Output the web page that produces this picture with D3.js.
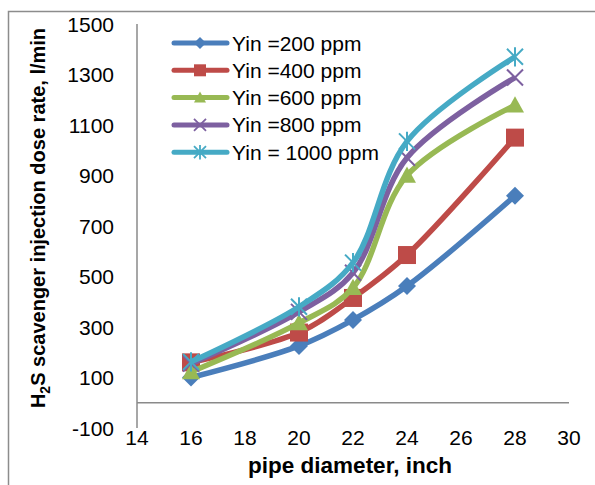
<!DOCTYPE html>
<html>
<head>
<meta charset="utf-8">
<script src="https://cdn.jsdelivr.net/npm/d3@7"></script>
<style>
  body { margin: 0; background: #fff; }
  svg { display: block; font-family: "Liberation Sans", Arial, sans-serif; }
</style>
</head>
<body>
<svg width="595" height="485"></svg>
<script>
// pipe diameters (inch)
const diameters = [16, 20, 22, 24, 28];

// dose rate, l/min, per inlet H2S concentration
const yin200 = [100, 225, 328, 462, 820];
const yin400 = [160, 278, 415, 585, 1050];
const yin600 = [122, 316, 455, 900, 1178];
const yin800 = [155, 360, 515, 970, 1288];
const yin1000 = [162, 380, 555, 1035, 1370];

const seriesNames = ["Yin =200 ppm", "Yin =400 ppm", "Yin =600 ppm", "Yin =800 ppm", "Yin = 1000 ppm"];
const xTicks = [14, 16, 18, 20, 22, 24, 26, 28, 30];
const yTicks = [-100, 100, 300, 500, 700, 900, 1100, 1300, 1500];

const colors = ["#4a7ebb", "#be4b48", "#98b954", "#7d60a0", "#46aac5"];
const shapes = ["diamond", "square", "triangle", "x", "star"];

const series = [yin200, yin400, yin600, yin800, yin1000].map((vals, i) => ({
  name: seriesNames[i],
  color: colors[i],
  shape: shapes[i],
  values: vals.map((v, j) => ({ x: diameters[j], y: v }))
}));

const svg = d3.select("svg");

const x = d3.scaleLinear().domain([14, 30]).range([137, 569]);
const y = d3.scaleLinear().domain([-100, 1500]).range([428, 24]);

// outer chart frame (left and top edges visible)
svg.append("path")
  .attr("d", "M8.5,485 L8.5,11.5 L595,11.5")
  .attr("fill", "none")
  .attr("stroke", "#8c8c8c")
  .attr("stroke-width", 1.5);

// axes lines
svg.append("line")
  .attr("x1", x(14)).attr("x2", x(14))
  .attr("y1", y(1500)).attr("y2", y(-100))
  .attr("stroke", "#8a8a8a").attr("stroke-width", 1.5);

svg.append("line")
  .attr("x1", x(14)).attr("x2", x(30))
  .attr("y1", y(0)).attr("y2", y(0))
  .attr("stroke", "#8a8a8a").attr("stroke-width", 1.5);

// tick labels
svg.append("g")
  .selectAll("text")
  .data(yTicks)
  .join("text")
  .attr("x", x(14) - 23)
  .attr("y", d => y(d))
  .attr("dy", "0.36em")
  .attr("text-anchor", "end")
  .attr("font-size", 21)
  .attr("fill", "#000")
  .text(d => d);

svg.append("g")
  .selectAll("text")
  .data(xTicks)
  .join("text")
  .attr("x", d => x(d))
  .attr("y", 437)
  .attr("dy", "0.36em")
  .attr("text-anchor", "middle")
  .attr("font-size", 21)
  .attr("fill", "#000")
  .text(d => d);

// axis titles
svg.append("text")
  .attr("x", 350)
  .attr("y", 473)
  .attr("text-anchor", "middle")
  .attr("font-size", 22.5)
  .attr("font-weight", "bold")
  .attr("fill", "#000")
  .text("pipe diameter, inch");

const yTitle = svg.append("text")
  .attr("transform", "translate(45,218) rotate(-90)")
  .attr("text-anchor", "middle")
  .attr("font-size", 20)
  .attr("font-weight", "bold")
  .attr("fill", "#000");
yTitle.append("tspan").text("H");
yTitle.append("tspan").attr("font-size", 14).attr("dy", 5).text("2");
yTitle.append("tspan").attr("dy", -5).text("S scavenger injection dose rate, l/min");

// marker path generator, size s = full width
function markerPath(shape, s) {
  const h = s / 2;
  switch (shape) {
    case "diamond": return `M0,${-h}L${h},0L0,${h}L${-h},0Z`;
    case "square": return `M${-h},${-h}H${h}V${h}H${-h}Z`;
    case "triangle": return `M0,${-h}L${h},${h * 0.8}L${-h},${h * 0.8}Z`;
    case "x": return `M${-h},${-h}L${h},${h}M${-h},${h}L${h},${-h}`;
    case "star": return `M${-h},${-h}L${h},${h}M${-h},${h}L${h},${-h}M0,${-h * 1.2}V${h * 1.2}`;
  }
}

const line = d3.line()
  .x(d => x(d.x))
  .y(d => y(d.y))
  .curve(d3.curveCatmullRom.alpha(0.5));

const plot = svg.append("g");

series.forEach(s => {
  plot.append("path")
    .datum(s.values)
    .attr("fill", "none")
    .attr("stroke", s.color)
    .attr("stroke-width", 5.5)
    .attr("stroke-linejoin", "round")
    .attr("d", line);

  const stroked = s.shape === "x" || s.shape === "star";
  plot.append("g")
    .selectAll("path")
    .data(s.values)
    .join("path")
    .attr("transform", d => `translate(${x(d.x)},${y(d.y)})`)
    .attr("d", markerPath(s.shape, stroked ? 16 : 18))
    .attr("fill", stroked ? "none" : s.color)
    .attr("stroke", s.color)
    .attr("stroke-width", stroked ? 2 : 0);
});

// legend
const legend = svg.append("g");
series.forEach((s, i) => {
  const ly = 43 + i * 27.3;
  const stroked = s.shape === "x" || s.shape === "star";
  legend.append("line")
    .attr("x1", 174).attr("x2", 227)
    .attr("y1", ly).attr("y2", ly)
    .attr("stroke", s.color)
    .attr("stroke-width", 5)
    .attr("stroke-linecap", "round");
  legend.append("path")
    .attr("transform", `translate(200,${ly})`)
    .attr("d", markerPath(s.shape, 12))
    .attr("fill", stroked ? "none" : s.color)
    .attr("stroke", s.color)
    .attr("stroke-width", stroked ? 1.8 : 0);
  legend.append("text")
    .attr("x", 232)
    .attr("y", ly)
    .attr("dy", "0.36em")
    .attr("font-size", 21)
    .attr("fill", "#000")
    .text(s.name);
});
</script>
</body>
</html>
